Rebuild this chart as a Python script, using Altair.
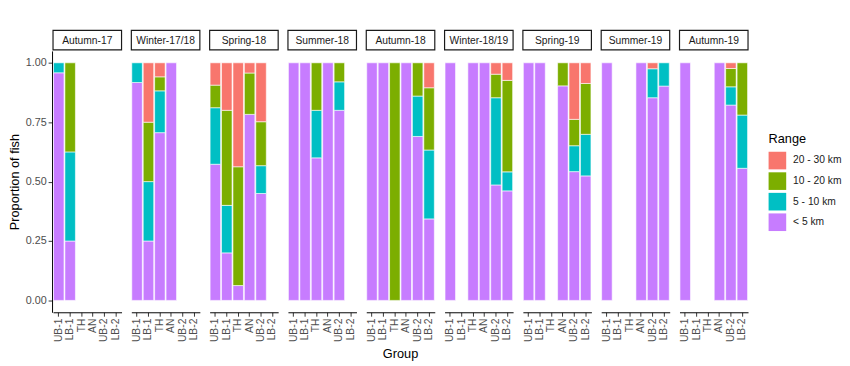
import altair as alt
import pandas as pd

seasons = ["Autumn-17", "Winter-17/18", "Spring-18", "Summer-18", "Autumn-18",
           "Winter-18/19", "Spring-19", "Summer-19", "Autumn-19"]
groups = ["UB-1", "LB-1", "TH", "AN", "UB-2", "LB-2"]
ranges = ["< 5 km", "5 - 10 km", "10 - 20 km", "20 - 30 km"]
legend_order = ["20 - 30 km", "10 - 20 km", "5 - 10 km", "< 5 km"]
legend_colors = ["#F8766D", "#7CAE00", "#00BFC4", "#C77CFF"]

# proportions per season, in group order UB-1, LB-1, TH, AN, UB-2, LB-2 (None = no fish)
lt5 = {
    "Autumn-17":    [0.958, 0.25, None, None, None, None],
    "Winter-17/18": [0.917, 0.25, 0.706, 1.0, None, None],
    "Spring-18":    [0.573, 0.20, 0.0625, 0.783, 0.45, None],
    "Summer-18":    [1.0, 1.0, 0.60, 1.0, 0.80, None],
    "Autumn-18":    [1.0, 1.0, 0.0, 1.0, 0.69, 0.343],
    "Winter-18/19": [1.0, None, 1.0, 1.0, 0.486, 0.461],
    "Spring-19":    [1.0, 1.0, None, 0.903, 0.542, 0.524],
    "Summer-19":    [1.0, None, None, 1.0, 0.853, 0.902],
    "Autumn-19":    [1.0, None, None, 1.0, 0.822, 0.556],
}
r5_10 = {
    "Autumn-17":    [0.042, 0.375, None, None, None, None],
    "Winter-17/18": [0.083, 0.25, 0.176, 0.0, None, None],
    "Spring-18":    [0.238, 0.20, 0.0, 0.0, 0.117, None],
    "Summer-18":    [0.0, 0.0, 0.20, 0.0, 0.12, None],
    "Autumn-18":    [0.0, 0.0, 0.0, 0.0, 0.17, 0.29],
    "Winter-18/19": [0.0, None, 0.0, 0.0, 0.367, 0.08],
    "Spring-19":    [0.0, 0.0, None, 0.0, 0.109, 0.175],
    "Summer-19":    [0.0, None, None, 0.0, 0.122, 0.098],
    "Autumn-19":    [0.0, None, None, 0.0, 0.077, 0.224],
}
r10_20 = {
    "Autumn-17":    [0.0, 0.375, None, None, None, None],
    "Winter-17/18": [0.0, 0.25, 0.059, 0.0, None, None],
    "Spring-18":    [0.095, 0.40, 0.50, 0.174, 0.185, None],
    "Summer-18":    [0.0, 0.0, 0.20, 0.0, 0.08, None],
    "Autumn-18":    [0.0, 0.0, 1.0, 0.0, 0.14, 0.262],
    "Winter-18/19": [0.0, None, 0.0, 0.0, 0.099, 0.385],
    "Spring-19":    [0.0, 0.0, None, 0.097, 0.111, 0.214],
    "Summer-19":    [0.0, None, None, 0.0, 0.0, 0.0],
    "Autumn-19":    [0.0, None, None, 0.0, 0.077, 0.22],
}
r20_30 = {
    "Autumn-17":    [0.0, 0.0, None, None, None, None],
    "Winter-17/18": [0.0, 0.25, 0.059, 0.0, None, None],
    "Spring-18":    [0.094, 0.20, 0.4375, 0.043, 0.248, None],
    "Summer-18":    [0.0, 0.0, 0.0, 0.0, 0.0, None],
    "Autumn-18":    [0.0, 0.0, 0.0, 0.0, 0.0, 0.105],
    "Winter-18/19": [0.0, None, 0.0, 0.0, 0.048, 0.074],
    "Spring-19":    [0.0, 0.0, None, 0.0, 0.238, 0.087],
    "Summer-19":    [0.0, None, None, 0.0, 0.025, 0.0],
    "Autumn-19":    [0.0, None, None, 0.0, 0.024, 0.0],
}

rows = []
for s in seasons:
    for gi, g in enumerate(groups):
        for ri, (r, src) in enumerate(zip(ranges, [lt5, r5_10, r10_20, r20_30])):
            v = src[s][gi]
            if v is None or v == 0:
                continue
            rows.append({"Season": s, "Group": g, "Range": r, "idx": ri, "p": v})
df = pd.DataFrame(rows)

W = 70
H = 267
FONT = "Liberation Sans"

bars = alt.Chart().mark_bar(stroke="white", strokeWidth=0.6).encode(
    x=alt.X("Group:N", sort=groups, scale=alt.Scale(domain=groups, paddingInner=0.08, paddingOuter=0.04),
            axis=alt.Axis(title=None, labelAngle=270, labelFontSize=10.5, labelColor="#4D4D4D",
                          domainColor="black", tickColor="#333333", tickSize=4, labelPadding=2,
                          grid=False)),
    y=alt.Y("p:Q", stack="zero", scale=alt.Scale(domain=[-0.05, 1.05], nice=False, zero=False),
            axis=alt.Axis(title="Proportion of fish", values=[0, 0.25, 0.5, 0.75, 1.0], format=".2f",
                          labelFontSize=11, labelColor="#4D4D4D", titleFontSize=13,
                          titleFontWeight="normal", titleColor="black", domainColor="black",
                          tickColor="#333333", tickSize=4, titlePadding=4, grid=False)),
    color=alt.Color("Range:N", scale=alt.Scale(domain=legend_order, range=legend_colors),
                    legend=alt.Legend(title="Range", titleFontSize=13, titleFontWeight="normal",
                                      titleColor="black", labelFontSize=10.5, labelColor="#1A1A1A",
                                      symbolType="square", symbolSize=324, symbolStrokeWidth=0,
                                      rowPadding=3, titlePadding=6, labelOffset=7,
                                      orient="none", legendX=731, legendY=84)),
    order=alt.Order("idx:Q", sort="ascending"),
)

strip_box = alt.Chart().transform_aggregate(n="count()", groupby=["Season"]).mark_rect(
    fill="white", stroke="#1A1A1A", strokeWidth=1.2
).encode(x=alt.value(0), x2=alt.value(W), y=alt.value(-21), y2=alt.value(-1))

strip_text = alt.Chart().transform_aggregate(n="count()", groupby=["Season"]).mark_text(
    fontSize=10.5, color="#1A1A1A", font=FONT
).encode(text="Season:N", x=alt.value(W / 2), y=alt.value(-10.5))

layered = alt.layer(bars, strip_box, strip_text, data=df).properties(width=W, height=H)

chart = layered.facet(
    column=alt.Column("Season:N", sort=seasons,
                      header=alt.Header(labels=False, title="Group", titleOrient="bottom",
                                        titleFontSize=13, titleFontWeight="normal",
                                        titleColor="black", titlePadding=-3)),
    spacing=8,
).configure(font=FONT).configure_view(strokeWidth=0, stroke="transparent").configure_axis(
    grid=False
).properties(
    padding={"top": 18, "left": 0, "right": 0, "bottom": 0}
)

chart.save("out.html", embed_options={"renderer": "svg", "actions": False})
